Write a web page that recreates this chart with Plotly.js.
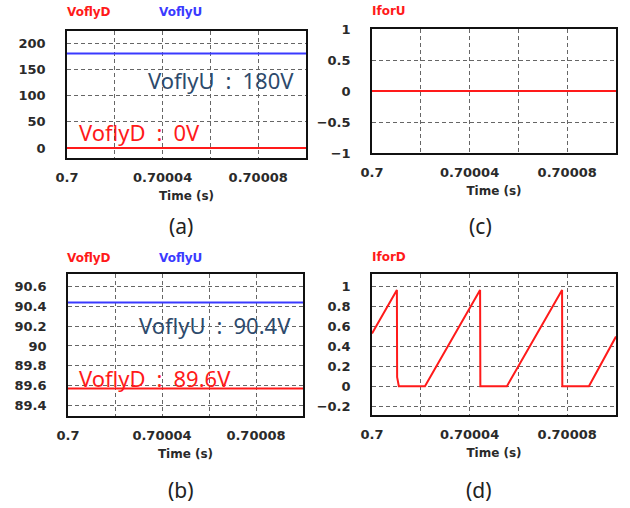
<!DOCTYPE html>
<html><head><meta charset="utf-8">
<script src="https://cdn.plot.ly/plotly-3.0.1.min.js"></script>
<style>html,body{margin:0;padding:0;background:#fff}#chart{width:630px;height:508px}</style>
</head><body><div id="chart"></div>
<script>
// Time axis (s)
const timeSpan = [0.7, 0.7001];
const timeTickVals = [0.7, 0.70002, 0.70004, 0.70006, 0.70008, 0.7001];
const timeTickText = ['0.7', '', '0.70004', '', '0.70008', ''];

// (a) flying capacitor voltages
const aTime = [0.7, 0.7001];
const aVoflyD = [0, 0];
const aVoflyU = [180, 180];
const aYTicks = [0, 50, 100, 150, 200];

// (b)
const bTime = [0.7, 0.7001];
const bVoflyD = [89.57, 89.57];
const bVoflyU = [90.44, 90.44];
const bYTicks = [89.4, 89.6, 89.8, 90, 90.2, 90.4, 90.6];

// (c)
const cTime = [0.7, 0.7001];
const cIforU = [0, 0];
const cYTicks = [-1, -0.5, 0, 0.5, 1];

// (d)
const dTime = [0.7, 0.7000102, 0.7000103, 0.700011, 0.7000217, 0.7000443, 0.7000444, 0.7000553, 0.7000779, 0.700078, 0.7000889, 0.7001];
const dIforD = [0.53, 0.97, 0.09, 0, 0, 0.97, 0, 0, 0.97, 0, 0, 0.5];
const dYTicks = [-0.2, 0, 0.2, 0.4, 0.6, 0.8, 1];

const W = 630, H = 508;
const px = (a, b) => [a / W, b / W];
const py = (top, bot) => [1 - bot / H, 1 - top / H];

const RED = '#ff1a1a', BLUE = '#3a3aff', NAVY = '#2d4a6c';
const tickFont = {family: 'DejaVu Sans', size: 13, color: '#2a2a2a', weight: 'bold'};

function xAxis(domain, anchor) {
  return {
    domain, anchor, range: timeSpan, tickmode: 'array', tickvals: timeTickVals, ticktext: timeTickText,
    showgrid: true, gridcolor: '#666', griddash: '4px,3px', gridwidth: 1,
    showline: true, linecolor: '#111', linewidth: 1.8, mirror: true, zeroline: false,
    ticks: '', tickfont: tickFont, ticklabelstandoff: 7,
    title: {text: '<b>Time (s)</b>', font: {family: 'DejaVu Sans', size: 12, color: '#2a2a2a'}, standoff: 7}
  };
}
function yAxis(domain, anchor, range, tickvals) {
  return {
    domain, anchor, range, tickmode: 'array', tickvals,
    showgrid: true, gridcolor: '#666', griddash: '4px,3px', gridwidth: 1,
    showline: true, linecolor: '#111', linewidth: 1.8, mirror: true, zeroline: false,
    ticks: '', tickfont: tickFont, ticklabelstandoff: 17
  };
}

const traces = [
  {x: aTime, y: aVoflyU, xaxis: 'x', yaxis: 'y', mode: 'lines', line: {color: BLUE, width: 2}},
  {x: aTime, y: aVoflyD, xaxis: 'x', yaxis: 'y', mode: 'lines', line: {color: RED, width: 2}},
  {x: cTime, y: cIforU, xaxis: 'x2', yaxis: 'y2', mode: 'lines', line: {color: RED, width: 2}},
  {x: bTime, y: bVoflyU, xaxis: 'x3', yaxis: 'y3', mode: 'lines', line: {color: BLUE, width: 2}},
  {x: bTime, y: bVoflyD, xaxis: 'x3', yaxis: 'y3', mode: 'lines', line: {color: RED, width: 2}},
  {x: dTime, y: dIforD, xaxis: 'x4', yaxis: 'y4', mode: 'lines', line: {color: RED, width: 2}}
];

const lblFont = (c) => ({family: 'DejaVu Sans', size: 12, color: c, weight: 'bold'});
const bigFont = (c) => ({family: 'Noto Sans', size: 22, color: c});
const capFont = {family: 'Noto Sans', size: 21, color: '#222'};
function ann(text, x, y, font, xanchor) {
  return {text, x: x / W, y: 1 - y / H, xref: 'paper', yref: 'paper', showarrow: false, font, xanchor: xanchor || 'center', yanchor: 'middle'};
}
const SP = '\u2002';

const layout = {
  width: W, height: H, margin: {l: 0, r: 0, t: 0, b: 0},
  paper_bgcolor: '#fff', plot_bgcolor: '#fff', showlegend: false,
  xaxis: xAxis(px(67, 306), 'y'),
  yaxis: yAxis(py(31, 158), 'x', [-19, 223], aYTicks),
  xaxis2: xAxis(px(372, 616), 'y2'),
  yaxis2: yAxis(py(29, 153), 'x2', [-1, 1], cYTicks),
  xaxis3: xAxis(px(68, 303), 'y3'),
  yaxis3: yAxis(py(274, 416), 'x3', [89.29, 90.73], bYTicks),
  xaxis4: xAxis(px(372, 616), 'y4'),
  yaxis4: yAxis(py(274, 415), 'x4', [-0.29, 1.13], dYTicks),
  annotations: [
    ann('VoflyD', 89, 12, lblFont(RED)),
    ann('VoflyU', 180, 12, lblFont(BLUE)),
    ann('IforU', 389, 11, lblFont(RED)),
    ann('VoflyD', 89, 258, lblFont(RED)),
    ann('VoflyU', 180, 258, lblFont(BLUE)),
    ann('IforD', 389, 257, lblFont(RED)),
    ann('VoflyU' + SP + ':' + SP + '180V', 296, 80, bigFont(NAVY), 'right'),
    ann('VoflyD' + SP + ':' + SP + '0V', 77, 132, bigFont(RED), 'left'),
    ann('VoflyU' + SP + ':' + SP + '90.4V', 293, 325, bigFont(NAVY), 'right'),
    ann('VoflyD' + SP + ':' + SP + '89.6V', 77, 378, bigFont(RED), 'left'),
    ann('(a)', 181, 226, capFont),
    ann('(c)', 481, 226, capFont),
    ann('(b)', 181, 490, capFont),
    ann('(d)', 479, 490, capFont)
  ]
};

Plotly.newPlot('chart', traces, layout, {staticPlot: true, displayModeBar: false});
</script></body></html>
